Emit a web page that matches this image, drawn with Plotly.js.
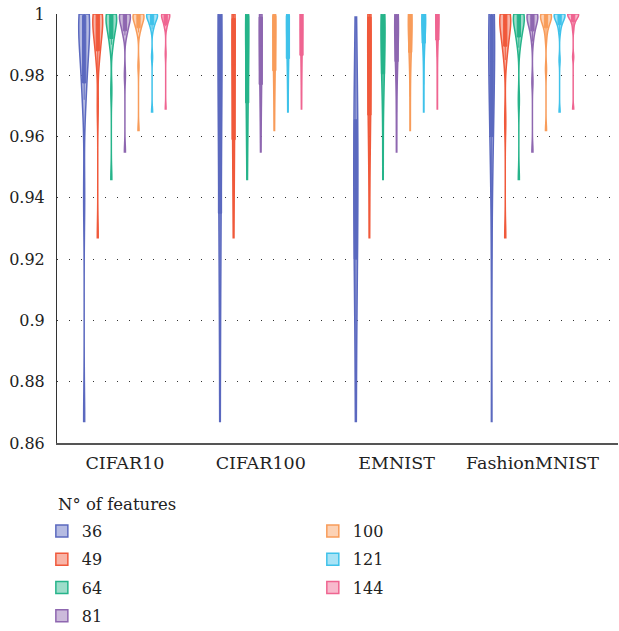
<!DOCTYPE html>
<html><head><meta charset="utf-8">
<script src="https://cdn.plot.ly/plotly-3.0.1.min.js"></script>
<style>html,body{margin:0;padding:0;background:#fff}</style>
</head><body><div id="chart" style="width:619px;height:631px"></div>
<script>
const datasets = ['CIFAR10', 'CIFAR100', 'EMNIST', 'FashionMNIST'];
const featureCounts = ['36', '49', '64', '81', '100', '121', '144'];
const colors = ['#5b69bf', '#f0593b', '#26b48a', '#8e67b0', '#f89c5a', '#3fc2ea', '#ef6591'];
const fills = ['rgba(91,105,191,0.45)', 'rgba(240,89,59,0.45)', 'rgba(38,180,138,0.45)', 'rgba(142,103,176,0.45)', 'rgba(248,156,90,0.45)', 'rgba(63,194,234,0.45)', 'rgba(239,101,145,0.45)'];

// accuracy samples, per feature count: [CIFAR10, CIFAR100, EMNIST, FashionMNIST]
const f36 = [
  [1,1,1,1,0.999,0.998,0.997,0.995,0.993,0.99,0.985,0.978,0.977,0.972,0.94,0.867],
  [1,1,1,1,0.999,0.995,0.99,0.983,0.974,0.964,0.953,0.936,0.934,0.925,0.9,0.867],
  [0.999,0.985,0.972,0.966,0.965,0.96,0.953,0.946,0.94,0.933,0.927,0.921,0.919,0.905,0.885,0.867],
  [1,1,1,1,0.999,0.996,0.992,0.987,0.982,0.976,0.97,0.963,0.957,0.955,0.92,0.867]
];
const f49 = [
  [1,1,1,1,1,0.999,0.998,0.997,0.996,0.994,0.992,0.989,0.987,0.986,0.97,0.927],
  [1,1,1,0.999,0.998,0.995,0.991,0.986,0.981,0.975,0.968,0.96,0.958,0.952,0.94,0.927],
  [1,1,1,0.999,0.999,0.995,0.99,0.985,0.98,0.975,0.971,0.968,0.966,0.958,0.945,0.927],
  [1,1,1,1,1,0.999,0.998,0.997,0.996,0.994,0.992,0.99,0.989,0.985,0.965,0.927]
];
const f64 = [
  [1,1,1,1,1,0.999,0.999,0.998,0.997,0.996,0.995,0.993,0.991,0.99,0.975,0.946],
  [1,1,1,1,0.999,0.997,0.994,0.99,0.986,0.982,0.977,0.972,0.97,0.965,0.957,0.946],
  [1,1,1,1,0.999,0.997,0.995,0.992,0.989,0.986,0.983,0.981,0.98,0.974,0.962,0.946],
  [1,1,1,1,1,0.999,0.999,0.998,0.997,0.996,0.994,0.993,0.992,0.989,0.972,0.946]
];
const f81 = [
  [1,1,1,1,1,1,0.999,0.999,0.998,0.997,0.996,0.995,0.994,0.993,0.98,0.955],
  [1,1,1,0.999,0.999,0.997,0.994,0.991,0.988,0.985,0.981,0.978,0.976,0.972,0.964,0.955],
  [1,1,1,1,0.999,0.998,0.996,0.994,0.992,0.99,0.987,0.985,0.984,0.979,0.968,0.955],
  [1,1,1,1,1,1,0.999,0.999,0.998,0.997,0.996,0.995,0.994,0.991,0.978,0.955]
];
const f100 = [
  [1,1,1,1,1,1,0.999,0.999,0.998,0.998,0.997,0.996,0.995,0.994,0.983,0.962],
  [1,1,1,1,0.999,0.998,0.996,0.994,0.991,0.988,0.985,0.982,0.981,0.977,0.97,0.962],
  [1,1,1,1,1,0.999,0.998,0.996,0.994,0.992,0.99,0.988,0.987,0.982,0.973,0.962],
  [1,1,1,1,1,1,0.999,0.999,0.998,0.998,0.997,0.996,0.995,0.992,0.982,0.962]
];
const f121 = [
  [1,1,1,1,1,1,1,0.999,0.999,0.998,0.998,0.997,0.996,0.995,0.986,0.968],
  [1,1,1,1,0.999,0.998,0.997,0.995,0.993,0.991,0.988,0.986,0.985,0.981,0.975,0.968],
  [1,1,1,1,1,0.999,0.998,0.997,0.996,0.994,0.992,0.991,0.99,0.985,0.977,0.968],
  [1,1,1,1,1,1,1,0.999,0.999,0.998,0.998,0.997,0.996,0.994,0.985,0.968]
];
const f144 = [
  [1,1,1,1,1,1,1,0.999,0.999,0.999,0.998,0.997,0.996,0.996,0.987,0.969],
  [1,1,1,1,1,0.999,0.998,0.996,0.994,0.992,0.989,0.987,0.986,0.982,0.976,0.969],
  [1,1,1,1,1,1,0.999,0.998,0.997,0.995,0.993,0.992,0.991,0.986,0.978,0.969],
  [1,1,1,1,1,1,1,1,0.999,0.999,0.998,0.998,0.997,0.995,0.986,0.969]
];
const samples = [f36, f49, f64, f81, f100, f121, f144];
const yTicks = [0.86, 0.88, 0.9, 0.92, 0.94, 0.96, 0.98, 1];
const legendTitle = 'N° of features';

const FONT = 'DejaVu Serif';

const traces = featureCounts.map((name, i) => {
  const x = [], y = [];
  samples[i].forEach((arr, d) => arr.forEach(v => { x.push(datasets[d]); y.push(v); }));
  return {
    type: 'violin', name: name, x: x, y: y,
    legend: i < 4 ? 'legend' : 'legend2',
    legendgroup: 'g' + name,
    scalegroup: name, scalemode: 'width', spanmode: 'hard',
    points: false,
    line: {color: colors[i], width: 1.5},
    fillcolor: fills[i],
    box: {visible: true, width: 0.3, fillcolor: colors[i], line: {color: colors[i], width: 1}},
    meanline: {visible: false},
    hoverinfo: 'skip'
  };
});

const legendCommon = {
  orientation: 'v', xanchor: 'left', yanchor: 'top',
  bgcolor: 'rgba(0,0,0,0)', borderwidth: 0,
  font: {family: FONT, size: 16, color: '#222'},
  traceorder: 'grouped', tracegroupgap: 4.5
};

const layout = {
  width: 619, height: 631,
  margin: {l: 57, r: 1, t: 14, b: 188, autoexpand: false},
  paper_bgcolor: '#fff', plot_bgcolor: '#fff',
  violinmode: 'group', violingap: 0.3, violingroupgap: 0.2,
  font: {family: FONT, size: 16, color: '#222'},
  xaxis: {
    type: 'category', categoryorder: 'array', categoryarray: datasets,
    range: [-0.5, 3.63], showline: true, linecolor: '#555', linewidth: 2,
    showgrid: false, zeroline: false, ticks: '', ticklabelstandoff: 3,
    tickfont: {family: FONT, size: 17.5, color: '#222'}
  },
  yaxis: {
    range: [0.86, 1.0], tickvals: yTicks, ticktext: yTicks.map(v => String(v)),
    showgrid: true, gridcolor: '#333', griddash: '1px,11px', gridwidth: 1,
    showline: true, linecolor: '#333', linewidth: 1, zeroline: false, ticks: '',
    ticklabelstandoff: 8,
    tickfont: {family: FONT, size: 16, color: '#222'}
  },
  legend: Object.assign({}, legendCommon, {x: -0.027, y: -0.1655}),
  legend2: Object.assign({}, legendCommon, {x: 0.456, y: -0.1655}),
  annotations: [{
    text: legendTitle, xref: 'paper', yref: 'paper', x: -0.002, y: -0.1445,
    xanchor: 'left', yanchor: 'middle', showarrow: false,
    font: {family: FONT, size: 16.5, color: '#222'}
  }],
  showlegend: true
};

Plotly.newPlot('chart', traces, layout, {displayModeBar: false, staticPlot: true});
</script>
</body></html>
